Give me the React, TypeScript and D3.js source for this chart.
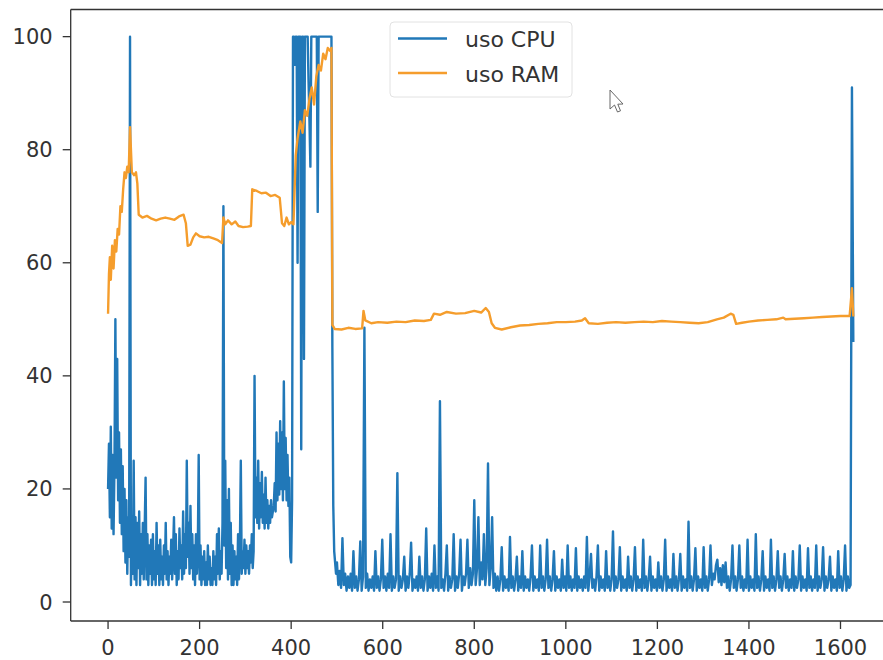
import React from 'react';
import * as d3 from 'd3';

// CPU usage, first part: samples 0..498, one reading every 2 samples
const EARLY_STEP = 2;
const cpuEarly = [
  20, 28, 15, 31, 13, 26, 12, 24,
  50, 22, 43, 18, 30, 14, 27, 12,
  24, 9, 20, 7, 18, 5, 15, 8,
  100, 3, 12, 5, 25, 4, 15, 3,
  14, 6, 16, 3, 12, 5, 14, 4,
  13, 22, 4, 12, 3, 10, 5, 11,
  3, 12, 4, 9, 3, 14, 5, 10,
  3, 11, 4, 8, 3, 10, 5, 14,
  4, 9, 3, 8, 5, 11, 4, 9,
  15, 5, 12, 3, 9, 4, 13, 6,
  10, 4, 16, 5, 12, 6, 25, 8,
  14, 5, 17, 6, 12, 4, 10, 3,
  12, 5, 9, 26, 4, 10, 3, 8,
  4, 9, 3, 7, 3, 10, 4, 8,
  3, 6, 3, 9, 4, 8, 3, 12,
  5, 13, 4, 9, 5, 14, 70, 10,
  25, 6, 18, 4, 20, 5, 14, 3,
  10, 3, 9, 4, 8, 3, 12, 4,
  10, 25, 5, 9, 6, 11, 5, 10,
  6, 9, 5, 10, 7, 12, 6, 9,
  40, 15, 22, 14, 25, 13, 21, 15,
  23, 14, 19, 13, 22, 14, 18, 13,
  17, 14, 18, 15, 16, 17, 21, 16,
  30, 18, 28, 19, 32, 20, 30, 18,
  39, 20, 29, 18, 26, 17, 22, 8,
  7, 18, 100, 100, 95, 100, 100, 60,
  100, 100, 100, 27, 100, 100, 43, 100,
  100, 100, 100, 92, 85, 77, 100, 100,
  100, 100, 100, 100, 100, 69, 100, 100,
  100, 100, 100, 100, 100, 100, 100, 100,
  100, 100, 100, 100, 100, 45, 17, 9,
  7, 5,
];

// CPU usage, second part: from sample 500, one reading every 3 samples
const LATE_START = 500;
const LATE_STEP = 3;
const cpuLate = [
  7, 3, 5.5, 2.5, 11.3, 3, 5, 2, 4.5, 2.5,
  5, 2, 9, 2.5, 4.5, 2, 4, 10.7, 2, 4.5,
  48.5, 2.5, 5, 2, 4, 2.5, 4.5, 2, 9, 2.5,
  4.5, 2, 4, 11, 2.5, 4.5, 2, 5, 2.5, 12,
  2, 4.5, 2.5, 4, 22.8, 2, 4.5, 2.5, 4, 8,
  2, 4.5, 2.5, 5, 10.5, 2, 4, 2.5, 4.5, 2,
  8, 2.5, 4.5, 2, 4, 13, 2, 4.5, 2.5, 5,
  2, 10, 2.5, 4.5, 2, 35.5, 2.5, 4, 2, 5,
  10, 2, 4.5, 2.5, 4, 12, 2, 4.5, 2.5, 5,
  11, 2, 4.5, 3, 5, 11, 2.5, 6, 3, 5,
  18, 3, 6, 15, 3, 7, 4, 12, 3, 6,
  24.5, 3, 6, 15, 2.5, 5, 2, 4.5, 2, 4,
  9.7, 2, 4.5, 2.5, 4, 2, 11.5, 2.5, 4.5, 2,
  4, 8, 2, 4.5, 2.5, 9, 2, 4.5, 2.5, 4,
  2, 4.5, 10, 2, 4.5, 2.5, 4, 2, 10, 2.5,
  4.5, 2, 4, 11, 2.5, 4.5, 2, 4, 9, 2,
  4.5, 2.5, 4, 2, 7.5, 2.5, 4.5, 2, 10, 2.5,
  4.5, 2, 4, 2.5, 9.5, 2, 4.5, 2.5, 4, 2,
  4.5, 2.5, 11.5, 2, 4.5, 8.5, 2.5, 4, 2, 4.5,
  10, 2, 4.5, 2.5, 4, 2, 9, 2.5, 4.5, 2,
  4, 12.5, 2, 4.5, 2.5, 4, 9.7, 2, 4.5, 2.5,
  4, 2, 8, 2.5, 4.5, 2, 4, 9.7, 2, 4.5,
  2.5, 4, 2, 11, 2.5, 4.5, 2, 4, 8, 2,
  4.5, 2.5, 4, 2, 7, 2.5, 4.5, 2, 4, 11,
  2, 4.5, 2.5, 4, 2, 8.5, 2.5, 4.5, 2, 4,
  8.5, 2, 4.5, 2.5, 4, 2, 14.2, 2.5, 4.5, 2,
  4, 9.5, 2, 4.5, 2.5, 4, 2, 9.7, 2.5, 4.5,
  2, 4, 10, 3, 5, 4, 6.5, 7.5, 3.5, 6,
  3, 6.5, 3.5, 7, 2.5, 4.5, 2, 4, 10, 2.5,
  4.5, 2, 4, 10, 2.5, 4.5, 2, 4, 2.5, 11,
  2, 4.5, 2.5, 4, 2, 12, 2.5, 4.5, 2, 4,
  9, 2, 4.5, 2.5, 4, 2, 11, 2.5, 4.5, 2,
  4, 9, 2.5, 4.5, 2, 4, 8.5, 2.5, 4.5, 2,
  4, 2.5, 9, 2, 4.5, 2.5, 4, 10, 2, 4.5,
  2.5, 4, 2, 9.5, 2.5, 4.5, 2, 4, 2.5, 10,
  2, 4.5, 2.5, 4, 9.7, 2, 4.5, 2.5, 4, 8,
  2, 4.5, 2.5, 4, 2, 9, 2.5, 4.5, 2, 4,
  10, 2, 4.5, 2.5, 3, 91, 46,
];

// RAM usage, sample index and value
const ramIndex = [
  0, 2, 4, 6, 9, 12, 15, 18, 21, 24, 27, 30, 33, 36, 39, 42, 45, 48, 52, 57, 61, 64, 67,
  75, 85, 95, 105, 115, 125, 135, 145, 155, 165, 170, 174, 180, 186, 192, 200, 210, 220,
  230, 240, 249, 252, 256, 262, 270, 278, 285, 295, 305, 312, 315, 325, 335, 345, 355,
  365, 375, 380, 385, 390, 395, 400, 405, 410, 414, 420, 425, 430, 435, 440, 445, 450,
  455, 460, 465, 470, 475, 480, 485, 488, 490, 495, 510, 525, 540, 555, 558, 562, 575,
  590, 610, 630, 650, 670, 690, 705, 712, 725, 740, 760, 780, 800, 815, 825, 832, 838,
  845, 860, 880, 900, 920, 940, 960, 980, 1000, 1020, 1035, 1042, 1050, 1070, 1090, 1110,
  1130, 1150, 1170, 1190, 1210, 1230, 1250, 1270, 1290, 1310, 1330, 1345, 1360, 1366,
  1372, 1385, 1400, 1420, 1440, 1460, 1475, 1480, 1500, 1520, 1540, 1560, 1580, 1600,
  1620, 1625, 1628,
];
const ramValues = [
  51, 58, 61, 57, 63, 59, 64, 62, 66, 65, 70, 69, 73, 76, 75, 77, 76, 84, 76, 75.5, 76, 74, 68.5,
  68, 68.3, 67.8, 67.5, 67.8, 68, 67.8, 67.6, 68.2, 68.5, 67, 63, 63.2, 64.5, 65.2, 64.7, 64.5, 64.6,
  64.3, 64, 63.5, 68, 66.8, 67.5, 66.8, 67.3, 66.5, 66.3, 66.4, 66.5, 73, 72.7, 72.3, 72.4, 71.8,
  72, 71.5, 67, 66.5, 68, 66.8, 67.2, 66.8, 79, 82, 85, 83, 87, 86, 89, 91, 88,
  93, 95, 94, 97, 96, 98, 97.5, 98, 49, 48.3, 48.2, 48.5, 48.3, 48.4, 51.5, 49.8, 49.3,
  49.5, 49.4, 49.6, 49.5, 49.8, 49.7, 49.9, 51, 50.8, 51.3, 51, 51.1, 51.5, 51.2, 52, 51.3, 49.3,
  48.5, 48.2, 48.6, 48.9, 49, 49.2, 49.3, 49.5, 49.5, 49.6, 49.8, 50.2, 49.3, 49.2, 49.4, 49.5,
  49.4, 49.5, 49.6, 49.5, 49.7, 49.6, 49.5, 49.4, 49.3, 49.5, 50, 50.3, 51, 50.8,
  49.2, 49.4, 49.6, 49.8, 49.9, 50, 50.3, 50, 50.1, 50.2, 50.3, 50.4, 50.5, 50.6,
  50.6, 55.5, 50.5,
];

const yTicks = [0, 20, 40, 60, 80, 100];
const xTicks = [0, 200, 400, 600, 800, 1000, 1200, 1400, 1600];
const seriesNames = ['uso CPU', 'uso RAM'];

const W = 883;
const H = 660;
const left = 70.7, right = 892.5, top = 9.5, bottom = 621;
const blue = '#2178b8';
const orange = '#f59d2c';
const ink = '#333';
const font = 'DejaVu Sans, sans-serif';

export default function App() {
  const x = d3.scaleLinear().domain([-81.6, 1713.6]).range([left, right]);
  const y = d3.scaleLinear().domain([-3.36, 104.8]).range([bottom, top]);

  const cpu = [
    ...cpuEarly.map((v, i) => [i * EARLY_STEP, v] as [number, number]),
    ...cpuLate.map((v, i) => [LATE_START + i * LATE_STEP, v] as [number, number]),
  ];
  const ram = ramIndex.map((k, i) => [k, ramValues[i]] as [number, number]);

  const line = d3.line<[number, number]>()
    .x(d => x(d[0]))
    .y(d => y(d[1]));

  return (
    <svg width={W} height={H} style={{ position: 'absolute', left: 0, top: 0, background: '#fff' }}
      fontFamily={font}>
      <defs>
        <clipPath id="plot">
          <rect x={left} y={top} width={right - left} height={bottom - top} />
        </clipPath>
      </defs>
      <rect width={W} height={H} fill="#fff" />

      <g clipPath="url(#plot)" fill="none" strokeLinejoin="round">
        <path d={line(cpu) || ''} stroke={blue} strokeWidth={2.4} />
        <path d={line(ram) || ''} stroke={orange} strokeWidth={2.4} />
      </g>

      {/* spines (the right one falls outside the picture) */}
      <g stroke={ink} strokeWidth={1.3} fill="none">
        <line x1={left} x2={left} y1={top} y2={bottom} />
        <line x1={left} x2={right} y1={bottom} y2={bottom} />
        <line x1={left} x2={right} y1={top} y2={top} />
      </g>

      {/* y axis */}
      {yTicks.map(t => (
        <g key={'y' + t}>
          <line x1={left - 8} x2={left} y1={y(t)} y2={y(t)} stroke={ink} strokeWidth={1.3} />
          <text x={left - 18} y={y(t)} dy="0.36em" textAnchor="end" fontSize={21} fill={ink}>{t}</text>
        </g>
      ))}

      {/* x axis */}
      {xTicks.map(t => (
        <g key={'x' + t}>
          <line x1={x(t)} x2={x(t)} y1={bottom} y2={bottom + 8} stroke={ink} strokeWidth={1.3} />
          <text x={x(t)} y={655} textAnchor="middle" fontSize={21} fill={ink}>{t}</text>
        </g>
      ))}

      {/* legend */}
      <rect x={390} y={22} width={182} height={75} rx={4} fill="#fff" fillOpacity={0.85}
        stroke="#e2e2e2" strokeWidth={1} />
      {seriesNames.map((name, i) => (
        <g key={name} transform={`translate(0,${i * 34.5})`}>
          <line x1={398} x2={447} y1={38.5} y2={38.5} stroke={i === 0 ? blue : orange} strokeWidth={2.4} />
          <text x={465} y={47} fontSize={22} fill={ink}>{name}</text>
        </g>
      ))}

      {/* mouse pointer captured in the screenshot */}
      <path d="M610,90 L610,109 L614.5,105 L617.5,112 L620.5,110.8 L617.8,104.2 L623,104 Z"
        fill="#fff" stroke="#666" strokeWidth={1} />
    </svg>
  );
}
